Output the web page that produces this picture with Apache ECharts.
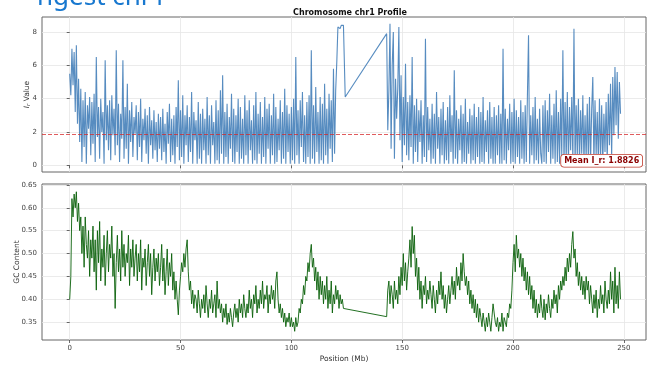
<!DOCTYPE html>
<html><head><meta charset="utf-8">
<script src="https://cdn.jsdelivr.net/npm/echarts@6/dist/echarts.min.js"></script>
<style>html,body{margin:0;padding:0;background:#fff}#c{width:655px;height:370px}</style>
</head><body><div id="c"></div>
<script>
const positionTicks = [0, 50, 100, 150, 200, 250];
const irTicks = [0, 2, 4, 6, 8];
const gcTicks = [0.35, 0.40, 0.45, 0.50, 0.55, 0.60, 0.65];
const meanIr = 1.8826;
const segAStart = 0, segBStart = 143, binStep = 0.5;

const irSegA = [
5.5,4.2,7.0,4.8,6.8,3.2,7.2,2.5,5.2,1.4,4.6,0.2,3.9,1.1,4.4,0.1,3.6,2.2,4.1,0.6,
3.8,1.3,4.3,0.2,6.5,1.7,3.5,0.4,4.0,2.0,3.2,0.1,6.3,1.5,3.6,0.9,3.9,0.3,4.2,1.8,
3.4,0.6,6.9,1.2,3.7,0.2,3.1,1.6,6.3,0.4,3.5,1.0,4.9,0.1,3.3,1.4,3.8,0.5,2.9,1.9,
3.6,0.3,3.2,1.1,4.0,0.2,2.8,1.5,3.4,0.7,3.0,0.1,3.5,1.2,2.7,0.4,3.3,0.9,2.6,0.2,
3.1,1.0,2.9,0.3,3.4,0.8,2.5,0.1,3.2,1.3,3.7,0.2,2.8,0.6,3.0,0.1,3.5,1.1,5.1,0.3,
3.3,0.5,4.2,0.1,3.0,1.2,3.6,0.2,2.9,0.8,4.4,0.1,3.2,1.5,2.7,0.1,3.8,0.4,3.1,0.1,
3.4,0.9,2.8,0.1,4.1,0.6,3.0,0.1,3.6,1.2,2.6,0.1,3.9,0.3,3.3,0.1,4.5,0.7,5.4,0.1,
3.2,0.5,3.7,0.1,2.9,1.0,4.3,0.2,3.4,0.1,3.0,0.8,4.0,0.1,3.5,0.4,2.8,0.1,4.2,0.6,
3.3,0.1,3.9,0.9,2.7,0.1,3.6,0.3,4.4,0.1,3.1,0.7,3.8,0.1,2.9,0.5,4.1,0.1,3.4,1.0,
3.7,0.1,3.0,0.6,4.3,0.1,3.5,0.2,2.8,0.9,3.9,0.1,3.2,0.4,4.6,0.1,3.6,0.8,3.1,0.1,
3.5,0.3,4.0,0.1,6.5,0.6,3.3,0.1,3.9,1.1,4.4,0.2,3.0,0.1,3.8,0.5,4.2,0.1,6.9,0.4,
3.6,0.1,4.7,0.8,3.2,0.1,4.1,0.3,3.7,0.1,4.9,0.6,3.4,0.1,4.3,1.0,3.9,0.2,5.8,0.7,
4.5,6.2,8.3,8.4
];
const irBridgePos = [122, 122.5, 123, 123.5, 124.3];
const irBridgeVal = [8.2, 8.4, 8.3, 8.4, 4.1];
const irSegB = [
7.9,2.1,4.5,8.5,1.0,6.0,8.0,0.4,5.2,2.8,4.6,8.3,1.5,5.4,0.2,4.1,1.2,6.1,0.6,3.8,
0.3,4.2,1.1,6.5,0.1,3.6,0.8,4.0,0.2,3.3,1.4,3.9,0.1,3.0,0.5,7.6,0.2,3.5,0.9,2.8,
0.1,3.7,0.4,3.1,0.1,4.4,1.0,2.9,0.1,3.4,0.6,3.8,0.1,2.7,0.3,3.5,0.1,4.2,0.8,3.0,
0.1,5.7,0.4,3.3,0.1,2.8,0.9,3.6,0.1,3.1,0.2,4.0,0.1,2.6,0.7,3.4,0.1,3.0,0.3,3.7,
0.1,2.9,0.5,3.5,0.1,3.2,0.2,4.1,0.1,2.7,0.8,3.3,0.1,3.8,0.4,2.9,0.1,3.5,0.1,3.0,
0.6,3.6,0.1,3.1,0.1,7.0,0.3,3.4,0.1,2.8,0.9,3.7,0.1,3.2,0.2,4.0,0.1,3.3,0.5,2.9,
0.1,3.9,0.4,3.2,0.1,3.6,0.2,4.2,7.8,0.1,3.0,0.6,3.5,0.1,4.1,0.3,2.8,0.1,3.4,0.7,
0.1,3.6,0.2,3.9,0.1,3.3,0.8,4.3,0.1,3.0,0.4,3.7,0.1,4.5,0.2,3.2,0.1,4.0,0.6,6.9,
0.1,3.8,0.3,4.4,0.1,3.5,0.9,4.1,0.2,8.2,0.1,3.6,0.5,4.0,0.1,3.3,0.7,4.2,0.1,3.0,
0.4,3.7,0.1,4.1,0.2,3.4,5.3,0.1,3.9,0.6,3.2,0.1,4.0,0.3,3.6,0.1,3.1,0.8,3.8,0.2,
4.3,1.2,4.9,0.5,5.3,1.8,5.9,2.4,5.6,1.6,5.0,3.1
];

const gcSegA = [
0.40,0.45,0.62,0.58,0.63,0.60,0.635,0.57,0.61,0.55,0.58,0.50,0.56,0.47,0.58,0.52,0.49,0.55,0.45,0.53,
0.49,0.56,0.46,0.53,0.42,0.55,0.48,0.57,0.44,0.51,0.47,0.54,0.43,0.50,0.55,0.46,0.52,0.49,0.56,0.45,
0.50,0.38,0.48,0.54,0.46,0.51,0.44,0.55,0.47,0.52,0.45,0.50,0.48,0.54,0.43,0.51,0.47,0.53,0.45,0.49,
0.52,0.44,0.50,0.46,0.53,0.42,0.49,0.47,0.51,0.43,0.48,0.52,0.45,0.50,0.41,0.47,0.51,0.44,0.49,0.46,
0.50,0.43,0.47,0.52,0.44,0.49,0.41,0.46,0.51,0.43,0.48,0.45,0.50,0.42,0.46,0.40,0.44,0.40,0.366,0.42,
0.45,0.48,0.46,0.50,0.47,0.51,0.53,0.46,0.42,0.44,0.39,0.42,0.38,0.41,0.40,0.37,0.42,0.39,0.36,0.40,
0.38,0.41,0.37,0.43,0.39,0.36,0.40,0.38,0.42,0.37,0.39,0.41,0.36,0.44,0.38,0.40,0.37,0.39,0.35,0.38,
0.36,0.39,0.345,0.37,0.35,0.38,0.36,0.34,0.37,0.39,0.36,0.38,0.35,0.40,0.37,0.39,0.36,0.41,0.38,0.36,
0.39,0.37,0.42,0.38,0.40,0.36,0.41,0.39,0.43,0.37,0.40,0.38,0.42,0.39,0.44,0.38,0.41,0.40,0.43,0.37,
0.41,0.39,0.43,0.40,0.42,0.38,0.44,0.46,0.40,0.37,0.39,0.36,0.38,0.35,0.37,0.34,0.36,0.35,0.37,0.34,
0.36,0.34,0.35,0.33,0.36,0.34,0.35,0.38,0.37,0.40,0.39,0.43,0.41,0.45,0.44,0.48,0.46,0.50,0.52,0.47,
0.49,0.44,0.47,0.42,0.46,0.40,0.45,0.41,0.44,0.39,0.43,0.40,0.45,0.38,0.42,0.39,0.44,0.37,0.41,0.39,
0.43,0.40,0.42,0.38
];
const gcBridgePos = [122, 122.5, 123, 123.5, 124.3];
const gcBridgeVal = [0.41, 0.39, 0.40, 0.38, 0.378];
const gcSegB = [
0.362,0.42,0.44,0.39,0.43,0.41,0.38,0.44,0.40,0.42,0.39,0.45,0.41,0.47,0.43,0.50,0.44,0.48,0.42,0.46,
0.49,0.53,0.47,0.559,0.50,0.54,0.45,0.49,0.42,0.47,0.40,0.44,0.38,0.43,0.41,0.45,0.39,0.42,0.40,0.44,
0.41,0.38,0.43,0.40,0.37,0.42,0.39,0.44,0.41,0.46,0.40,0.43,0.38,0.41,0.37,0.40,0.43,0.39,0.42,0.45,
0.41,0.44,0.40,0.47,0.43,0.45,0.42,0.48,0.44,0.50,0.46,0.43,0.45,0.41,0.44,0.39,0.42,0.38,0.41,0.37,
0.40,0.36,0.39,0.35,0.38,0.36,0.34,0.37,0.35,0.33,0.36,0.34,0.37,0.35,0.33,0.36,0.39,0.37,0.35,0.34,
0.36,0.33,0.35,0.34,0.37,0.33,0.36,0.35,0.34,0.37,0.36,0.39,0.38,0.42,0.48,0.52,0.46,0.54,0.49,0.51,
0.47,0.50,0.45,0.49,0.44,0.47,0.42,0.46,0.41,0.45,0.40,0.43,0.38,0.42,0.37,0.40,0.36,0.39,0.37,0.41,
0.38,0.36,0.40,0.355,0.39,0.37,0.41,0.38,0.36,0.40,0.38,0.42,0.39,0.41,0.37,0.43,0.40,0.44,0.42,0.45,
0.43,0.47,0.44,0.49,0.46,0.50,0.47,0.52,0.548,0.49,0.51,0.45,0.48,0.43,0.46,0.42,0.45,0.41,0.44,0.40,
0.45,0.42,0.44,0.39,0.43,0.40,0.37,0.41,0.38,0.42,0.36,0.40,0.38,0.43,0.39,0.41,0.37,0.44,0.40,0.38,
0.42,0.39,0.46,0.40,0.44,0.37,0.47,0.39,0.43,0.38,0.46,0.40
];

function buildSeries(segA, bridgePos, bridgeVal, segB) {
  const out = [];
  segA.forEach((v, i) => out.push([segAStart + i * binStep, v]));
  bridgePos.forEach((p, i) => out.push([p, bridgeVal[i]]));
  segB.forEach((v, i) => out.push([segBStart + i * binStep, v]));
  return out;
}
const irData = buildSeries(irSegA, irBridgePos, irBridgeVal, irSegB);
const gcData = buildSeries(gcSegA, gcBridgePos, gcBridgeVal, gcSegB);

const FONT = 'DejaVu Sans';
const gridLine = { show: true, lineStyle: { color: '#e6e6e6', width: 0.8 } };
function xAxisCfg(idx, showLabels) {
  return {
    type: 'value', gridIndex: idx, min: -12.5, max: 260,
    axisLine: { show: false },
    axisTick: { show: true, customValues: positionTicks, length: 3, lineStyle: { color: '#444', width: 0.8 } },
    axisLabel: { show: showLabels, customValues: positionTicks, fontSize: 7, color: '#444', fontFamily: FONT, margin: 5 },
    splitLine: gridLine,
    name: showLabels ? 'Position (Mb)' : '',
    nameLocation: 'middle', nameGap: 15, nameMoveOverlap: false,
    nameTextStyle: { fontSize: 7.5, color: '#333', fontFamily: FONT }
  };
}
const chart = echarts.init(document.getElementById('c'), null, { renderer: 'canvas' });
chart.setOption({
  animation: false,
  backgroundColor: '#fff',
  title: {
    text: 'Chromosome chr1 Profile', left: 345, top: 4, textAlign: 'center',
    textStyle: { fontSize: 8, fontWeight: 'bold', color: '#111', fontFamily: FONT }
  },
  grid: [
    { left: 42, top: 17, width: 604, height: 155, show: true, borderColor: '#666', borderWidth: 1, backgroundColor: 'transparent' },
    { left: 42, top: 184, width: 604, height: 156, show: true, borderColor: '#666', borderWidth: 1, backgroundColor: 'transparent' }
  ],
  xAxis: [xAxisCfg(0, false), xAxisCfg(1, true)],
  yAxis: [
    {
      type: 'value', gridIndex: 0, min: -0.4, max: 8.9,
      axisLine: { show: false },
      axisTick: { show: true, customValues: irTicks, length: 3, lineStyle: { color: '#444', width: 0.8 } },
      axisLabel: { customValues: irTicks, fontSize: 7, color: '#444', fontFamily: FONT, margin: 5 },
      splitLine: gridLine,
      name: '{i|I}{s|r} Value', nameLocation: 'middle', nameGap: 10, nameMoveOverlap: false,
      nameTextStyle: {
        fontSize: 7.5, color: '#333', fontFamily: FONT,
        rich: {
          i: { fontSize: 7.5, fontStyle: 'italic', fontFamily: FONT, color: '#333' },
          s: { fontSize: 5.5, fontStyle: 'italic', fontFamily: FONT, color: '#333', verticalAlign: 'bottom', padding: [3, 0, 0, 0] }
        }
      }
    },
    {
      type: 'value', gridIndex: 1, min: 0.311, max: 0.652,
      axisLine: { show: false },
      axisTick: { show: true, customValues: gcTicks, length: 3, lineStyle: { color: '#444', width: 0.8 } },
      axisLabel: { customValues: gcTicks, fontSize: 7, color: '#444', fontFamily: FONT, margin: 5, formatter: v => v.toFixed(2) },
      splitLine: gridLine,
      name: 'GC Content', nameLocation: 'middle', nameGap: 21, nameMoveOverlap: false,
      nameTextStyle: { fontSize: 7.5, color: '#333', fontFamily: FONT }
    }
  ],
  series: [
    {
      type: 'line', xAxisIndex: 0, yAxisIndex: 0, data: irData,
      showSymbol: false, symbol: 'none', sampling: null,
      lineStyle: { color: '#3a78b5', width: 1.1, opacity: 0.85 },
      markLine: {
        silent: true, symbol: 'none', label: { show: false },
        lineStyle: { type: [4, 2], color: 'rgba(214,39,40,0.75)', width: 1 },
        data: [{ yAxis: meanIr }]
      }
    },
    {
      type: 'line', xAxisIndex: 1, yAxisIndex: 1, data: gcData,
      showSymbol: false, symbol: 'none',
      lineStyle: { color: '#0a600a', width: 1, opacity: 0.9 }
    }
  ],
  graphic: [
    {
      type: 'text', left: 37, top: -15, z: 100,
      style: { text: 'ngest chr1', font: '26px "Noto Sans"', fill: '#1878cf' }
    },
    {
      type: 'text', right: 12, top: 154, z: 100,
      style: {
        text: 'Mean I_r: ' + meanIr.toFixed(4), font: 'bold 8px "DejaVu Sans"', fill: '#8b0000',
        backgroundColor: '#fff', borderColor: '#c0392b', borderWidth: 0.8, borderRadius: 3, padding: [2, 3, 2, 3]
      }
    }
  ]
});
</script>
</body></html>
